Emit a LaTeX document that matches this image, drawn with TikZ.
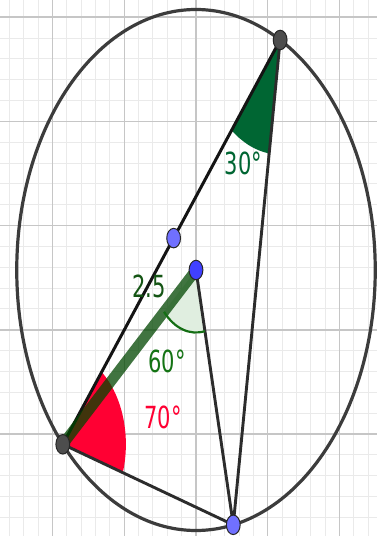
\documentclass[tikz,border=0pt]{standalone}
\usepackage{fontspec}
\setmainfont{DejaVu Sans}
\usetikzlibrary{shapes.geometric,calc}
\definecolor{minorg}{RGB}{234,234,234}
\definecolor{majorg}{RGB}{198,198,198}
\definecolor{circg}{RGB}{60,60,60}
\definecolor{segg}{RGB}{44,44,44}
\definecolor{redang}{RGB}{255,0,51}
\definecolor{greenang}{RGB}{0,102,51}
\definecolor{bandg}{RGB}{0,70,0}
\definecolor{lightang}{RGB}{224,238,224}
\definecolor{arcg}{RGB}{20,110,20}
\definecolor{lblg}{RGB}{20,85,20}
\definecolor{lbl60}{RGB}{20,115,20}
\definecolor{dotgray}{RGB}{77,77,77}
\definecolor{blueA}{RGB}{112,112,255}
\definecolor{blueB}{RGB}{64,64,255}
\tikzset{
  minorgrid/.style={draw=minorg,line width=1pt},
  majorgrid/.style={draw=majorg,line width=1.4pt},
  circstyle/.style={draw=circg,line width=3.2pt},
  segstyle/.style={draw=segg,line width=2.9pt},
  segblack/.style={draw=black!92,line width=3pt},
  bandstyle/.style={draw=bandg,line width=10.5pt,opacity=0.75},
  ptbase/.style={ellipse,minimum width=13.8pt,minimum height=19.5pt,inner sep=0pt,draw=black!85,line width=1pt},
  ptdark/.style={ptbase,fill=dotgray},
  ptlight/.style={ptbase,fill=blueA},
  ptblue/.style={ptbase,fill=blueB},
  lbl/.style={anchor=base,inner sep=0pt,font=\fontsize{21}{21}\selectfont}
}
\newcommand{\vstr}[1]{\scalebox{1}[1.45]{#1}}
\begin{document}
\begin{tikzpicture}[x=71.7pt,y=104.2pt]
\useasboundingbox (-196pt,-266pt) rectangle (181pt,270pt);
\clip (-196pt,-266pt) rectangle (181pt,270pt);
\fill[white] (-196pt,-266pt) rectangle (181pt,270pt);
% grid
\foreach \i in {-13,...,12} \draw[minorgrid] (\i/5,-2.7) -- (\i/5,2.7);
\foreach \j in {-14,...,10} \draw[minorgrid] (-2.8,{0.4261+(\j)/5}) -- (2.6,{0.4261+(\j)/5});
\foreach \i in {-2,...,2} \draw[majorgrid] (\i,-2.7) -- (\i,2.7);
\foreach \j in {-2,...,2} \draw[majorgrid] (-2.8,{0.4261+(\j)}) -- (2.6,{0.4261+(\j)});
% points
\coordinate (O) at (0,0);
\coordinate (A) at (62:2.5);
\coordinate (B) at (222:2.5);
\coordinate (C) at (282:2.5);
\coordinate (M) at ($(A)!0.49!(B)$);
% circle
\draw[circstyle] (O) ellipse[x radius=179.25pt,y radius=260.5pt];
% angle sectors
\fill[redang] (B) -- ++(-18:0.88) arc[start angle=-18,end angle=52,x radius=63.1pt,y radius=91.7pt] -- cycle;
\fill[greenang] (A) -- ++(232:1.1) arc[start angle=232,end angle=262,x radius=78.9pt,y radius=114.6pt] -- cycle;
\fill[lightang] (O) -- ++(222:0.6) arc[start angle=222,end angle=282,x radius=43pt,y radius=62.5pt] -- cycle;
% segments
\draw[segstyle] (A) -- (C);
\draw[segstyle] (B) -- (C);
\draw[segstyle] (O) -- (C);
\draw[segblack] (A) -- (B);
\draw[bandstyle] (B) -- (O);
\draw[draw=arcg,line width=2.2pt] ($(O)+(222:0.6)$) arc[start angle=222,end angle=282,x radius=43pt,y radius=62.5pt];
% dots
\node[ptdark] (Ad) at (A) {};
\node[ptdark] (Bd) at (B) {};
\node[ptlight] (Cd) at (C) {};
\node[ptlight] (Md) at (M) {};
\node[ptblue] (Od) at (O) {};
% labels
\node[lbl,text=greenang] (l30) at (47.5pt,95pt) {\vstr{30°}};
\node[lbl,text=lblg] (l25) at (-47pt,-27pt) {\vstr{2.5}};
\node[lbl,text=lbl60] (l60) at (-29pt,-102pt) {\vstr{60°}};
\node[lbl,text=redang] (l70) at (-33pt,-158pt) {\vstr{70°}};
\end{tikzpicture}
\end{document}
